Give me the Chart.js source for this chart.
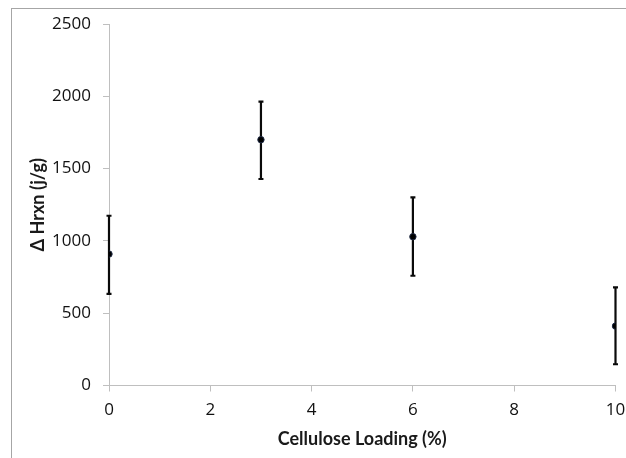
<!DOCTYPE html>
<html>
<head>
<meta charset="utf-8">
<script src="https://cdn.jsdelivr.net/npm/chart.js@4.4.0/dist/chart.umd.min.js"></script>
<style>
  html, body { margin: 0; padding: 0; background: #fff; }
  #wrap { position: relative; width: 626px; height: 458px; }
  #frame { position: absolute; left: 11px; top: 8px; width: 640px; height: 470px;
           border-left: 1px solid #a6a6a6; border-top: 1px solid #a6a6a6; pointer-events: none; }
  canvas { position: absolute; left: 0; top: 0; }
</style>
</head>
<body>
<div id="wrap">
  <canvas id="c" width="626" height="458"></canvas>
  <div id="frame"></div>
</div>
<script>
const loading = [0, 3, 6, 10];
const deltaH = [909, 1700, 1029, 411];
const errLow = [633, 1428, 759, 147];
const errHigh = [1174, 1963, 1301, 679];
const xTicks = [0, 2, 4, 6, 8, 10];
const yTicks = [0, 500, 1000, 1500, 2000, 2500];

const errorBars = {
  id: 'errorBars',
  beforeDatasetsDraw(chart) {
    const {ctx, scales: {x, y}} = chart;
    ctx.save();
    ctx.strokeStyle = '#0a0a0a';
    ctx.lineWidth = 2.2;
    for (let i = 0; i < loading.length; i++) {
      const px = x.getPixelForValue(loading[i]);
      const yl = y.getPixelForValue(errLow[i]);
      const yh = y.getPixelForValue(errHigh[i]);
      ctx.beginPath();
      ctx.moveTo(px, yl); ctx.lineTo(px, yh);
      ctx.moveTo(px - 2.5, yl); ctx.lineTo(px + 2.5, yl);
      ctx.moveTo(px - 2.5, yh); ctx.lineTo(px + 2.5, yh);
      ctx.stroke();
    }
    ctx.restore();
  }
};

const tickFont = { family: "'Open Sans', sans-serif", size: 17 };
const titleFont = { family: 'Lato, sans-serif', size: 18, weight: 'bold' };

function draw() {
  new Chart(document.getElementById('c'), {
    type: 'scatter',
    data: {
      datasets: [{
        data: loading.map((v, i) => ({ x: v, y: deltaH[i] })),
        backgroundColor: '#000',
        borderColor: '#1f2a44',
        borderWidth: 1,
        pointRadius: 3.2,
        pointHoverRadius: 3.2
      }]
    },
    options: {
      responsive: false,
      animation: false,
      devicePixelRatio: 1,
      layout: { padding: { left: 0, top: 24, right: 0, bottom: 0 } },
      plugins: { legend: { display: false }, tooltip: { enabled: false } },
      scales: {
        x: {
          type: 'linear', min: 0, max: 10,
          afterBuildTicks: s => { s.ticks = xTicks.map(v => ({ value: v })); },
          afterFit: s => { s.height = 72.5; s.paddingRight = 10.5; },
          border: { color: '#bfbfbf', width: 1 },
          grid: { drawOnChartArea: false, tickLength: 6, color: '#bfbfbf' },
          ticks: { font: tickFont, color: '#111', padding: 8, maxRotation: 0,
                   callback: v => String(v) },
          title: { display: true, text: 'Cellulose Loading (%)', font: titleFont, color: '#1a1a1a',
                   padding: { top: 0, bottom: 8 } }
        },
        y: {
          type: 'linear', min: 0, max: 2500,
          afterBuildTicks: s => { s.ticks = yTicks.map(v => ({ value: v })); },
          afterFit: s => { s.width = 109; },
          border: { color: '#bfbfbf', width: 1 },
          grid: { drawOnChartArea: false, tickLength: 6, color: '#bfbfbf' },
          ticks: { font: tickFont, color: '#111', padding: 12, callback: v => String(v) },
          title: { display: true, text: 'Δ Hrxn (j/g)', font: titleFont, color: '#1a1a1a',
                   padding: { top: 27, bottom: 0 } }
        }
      }
    },
    plugins: [errorBars]
  });
}
Promise.all([
  document.fonts.load("17px 'Open Sans'"),
  document.fonts.load("bold 18px Lato")
]).then(draw, draw);
</script>
</body>
</html>
